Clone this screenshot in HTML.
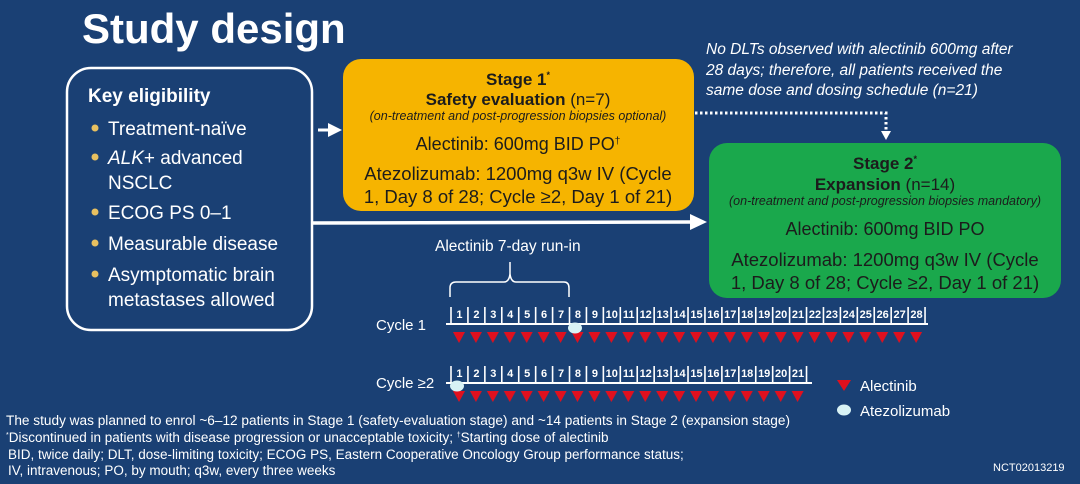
<!DOCTYPE html>
<html><head><meta charset="utf-8"><style>
html,body{margin:0;padding:0;background:#1a4074;}
svg{display:block;font-family:"Liberation Sans",sans-serif;}
</style></head><body>
<svg width="1080" height="484" viewBox="0 0 1080 484" xmlns="http://www.w3.org/2000/svg">
<defs>
<pattern id="tri1" x="451" y="0" width="16.93" height="484" patternUnits="userSpaceOnUse">
<polygon points="2,332 14,332 8,343" fill="#e0101e"/></pattern>
<pattern id="tri2" x="451" y="0" width="16.93" height="484" patternUnits="userSpaceOnUse">
<polygon points="2,391 14,391 8,402" fill="#e0101e"/></pattern>
</defs>
<rect width="1080" height="484" fill="#1a4074"/>
<text x="82" y="43" font-size="42" font-weight="bold" fill="#fff">Study design</text>

<!-- eligibility box -->
<rect x="67" y="68" width="245" height="262" rx="24" fill="none" stroke="#fff" stroke-width="2.5"/>
<g fill="#fff" font-size="19">
<text x="88" y="102" font-weight="bold">Key eligibility</text>
<text x="108" y="135">Treatment-naïve</text>
<text x="108" y="164"><tspan font-style="italic">ALK</tspan>+ advanced</text>
<text x="108" y="189">NSCLC</text>
<text x="108" y="219">ECOG PS 0–1</text>
<text x="108" y="250">Measurable disease</text>
<text x="108" y="281">Asymptomatic brain</text>
<text x="108" y="306">metastases allowed</text>
</g>
<g fill="#e8c060">
<circle cx="95" cy="128" r="3.5"/><circle cx="95" cy="157" r="3.5"/><circle cx="95" cy="212" r="3.5"/><circle cx="95" cy="243" r="3.5"/><circle cx="95" cy="274" r="3.5"/>
</g>

<!-- arrows -->
<line x1="318" y1="130" x2="330" y2="130" stroke="#fff" stroke-width="3"/>
<polygon points="328,123 342,130 328,137" fill="#fff"/>
<line x1="312" y1="223" x2="692" y2="222" stroke="#fff" stroke-width="3.5"/>
<polygon points="690,214 707,222 690,230" fill="#fff"/>
<path d="M695 113 H886 V132" fill="none" stroke="#fff" stroke-width="3" stroke-dasharray="2.5 2.5"/>
<polygon points="881,131 891,131 886,140" fill="#fff"/>

<!-- stage 1 -->
<rect x="343" y="59" width="351" height="152" rx="18" fill="#f6b400"/>
<g fill="#1c1c1c" text-anchor="middle">
<text x="518" y="85" font-size="17" font-weight="bold">Stage 1<tspan font-size="9" dy="-7">*</tspan></text>
<text x="518" y="105" font-size="17"><tspan font-weight="bold">Safety evaluation</tspan> (n=7)</text>
<text x="518" y="120" font-size="12.5" font-style="italic">(on-treatment and post-progression biopsies optional)</text>
<text x="518" y="150" font-size="18">Alectinib: 600mg BID PO<tspan font-size="10" dy="-6">†</tspan></text>
<text x="518" y="180" font-size="18.5">Atezolizumab: 1200mg q3w IV (Cycle</text>
<text x="518" y="203" font-size="18.5">1, Day 8 of 28; Cycle ≥2, Day 1 of 21)</text>
</g>

<!-- stage 2 -->
<rect x="709" y="143" width="352" height="155" rx="18" fill="#1aa84c"/>
<g fill="#1c1c1c" text-anchor="middle">
<text x="885" y="169" font-size="17" font-weight="bold">Stage 2<tspan font-size="9" dy="-7">*</tspan></text>
<text x="885" y="190" font-size="17"><tspan font-weight="bold">Expansion</tspan> (n=14)</text>
<text x="885" y="205" font-size="12.5" font-style="italic">(on-treatment and post-progression biopsies mandatory)</text>
<text x="885" y="235" font-size="18">Alectinib: 600mg BID PO</text>
<text x="885" y="266" font-size="18.5">Atezolizumab: 1200mg q3w IV (Cycle</text>
<text x="885" y="289" font-size="18.5">1, Day 8 of 28; Cycle ≥2, Day 1 of 21)</text>
</g>

<!-- note -->
<g fill="#fff" font-size="15.5" font-style="italic">
<text x="706" y="54">No DLTs observed with alectinib 600mg after</text>
<text x="706" y="75">28 days; therefore, all patients received the</text>
<text x="706" y="95">same dose and dosing schedule (n=21)</text>
</g>

<!-- run-in -->
<text x="435" y="251" font-size="15.5" fill="#fff">Alectinib 7-day run-in</text>
<path d="M450 297 V288 Q450 282 456 282 H504 Q509 282 510 274 Q511 282 516 282 H564 Q569 282 569 288 V297" fill="none" stroke="#fff" stroke-width="1.5"/>
<line x1="510" y1="262" x2="510" y2="274" stroke="#fff" stroke-width="1.5"/>

<!-- cycle 1 -->
<text x="376" y="330" font-size="15" fill="#fff">Cycle 1</text>
<line x1="446" y1="324" x2="928" y2="324" stroke="#fff" stroke-width="2"/>
<line x1="450.2" y1="315.5" x2="930" y2="315.5" stroke="#fff" stroke-width="17" stroke-dasharray="1.6 15.33"/>
<rect x="451" y="328" width="474" height="18" fill="url(#tri1)"/>
<g fill="#fff" font-size="11" font-weight="bold" text-anchor="middle">
<text y="318"><tspan x="459.4">1</tspan><tspan x="476.4">2</tspan><tspan x="493.3">3</tspan><tspan x="510.2">4</tspan><tspan x="527.2">5</tspan><tspan x="544.1">6</tspan><tspan x="561">7</tspan><tspan x="577.9">8</tspan><tspan x="594.9">9</tspan><tspan x="611.8">10</tspan><tspan x="628.7">11</tspan><tspan x="645.7">12</tspan><tspan x="662.6">13</tspan><tspan x="679.5">14</tspan><tspan x="696.5">15</tspan><tspan x="713.4">16</tspan><tspan x="730.3">17</tspan><tspan x="747.2">18</tspan><tspan x="764.2">19</tspan><tspan x="781.1">20</tspan><tspan x="798">21</tspan><tspan x="815">22</tspan><tspan x="831.9">23</tspan><tspan x="848.8">24</tspan><tspan x="865.8">25</tspan><tspan x="882.7">26</tspan><tspan x="899.6">27</tspan><tspan x="916.5">28</tspan></text>
<text y="377"><tspan x="459.4">1</tspan><tspan x="476.4">2</tspan><tspan x="493.3">3</tspan><tspan x="510.2">4</tspan><tspan x="527.2">5</tspan><tspan x="544.1">6</tspan><tspan x="561">7</tspan><tspan x="577.9">8</tspan><tspan x="594.9">9</tspan><tspan x="611.8">10</tspan><tspan x="628.7">11</tspan><tspan x="645.7">12</tspan><tspan x="662.6">13</tspan><tspan x="679.5">14</tspan><tspan x="696.5">15</tspan><tspan x="713.4">16</tspan><tspan x="730.3">17</tspan><tspan x="747.2">18</tspan><tspan x="764.2">19</tspan><tspan x="781.1">20</tspan><tspan x="798">21</tspan></text>
</g>
<ellipse cx="575" cy="328" rx="7" ry="5.5" fill="#d8f2f5"/>

<!-- cycle 2 -->
<text x="376" y="388" font-size="15" fill="#fff">Cycle ≥2</text>
<line x1="446" y1="383" x2="812" y2="383" stroke="#fff" stroke-width="2"/>
<line x1="450.2" y1="374.5" x2="808" y2="374.5" stroke="#fff" stroke-width="17" stroke-dasharray="1.6 15.33"/>
<rect x="451" y="387" width="356" height="18" fill="url(#tri2)"/>
<ellipse cx="457" cy="386" rx="7" ry="5.5" fill="#d8f2f5"/>

<!-- legend -->
<polygon points="837,380 851,380 844,391" fill="#e0101e"/>
<text x="860" y="391" font-size="15" fill="#fff">Alectinib</text>
<ellipse cx="844" cy="410" rx="7" ry="5.5" fill="#d8f2f5"/>
<text x="860" y="416" font-size="15" fill="#fff">Atezolizumab</text>

<!-- footnotes -->
<g fill="#fff" font-size="13.5">
<text x="6" y="425" textLength="784" lengthAdjust="spacingAndGlyphs">The study was planned to enrol ~6–12 patients in Stage 1 (safety-evaluation stage) and ~14 patients in Stage 2 (expansion stage)</text>
<text x="6" y="442"><tspan font-size="7" dy="-5">*</tspan><tspan dy="5">Discontinued in patients with disease progression or unacceptable toxicity; </tspan><tspan font-size="7" dy="-5">†</tspan><tspan dy="5">Starting dose of alectinib</tspan></text>
<text x="8" y="459">BID, twice daily; DLT, dose-limiting toxicity; ECOG PS, Eastern Cooperative Oncology Group performance status;</text>
<text x="8" y="475">IV, intravenous; PO, by mouth; q3w, every three weeks</text>
<text x="993" y="471" font-size="11">NCT02013219</text>
</g>
</svg>
</body></html>
